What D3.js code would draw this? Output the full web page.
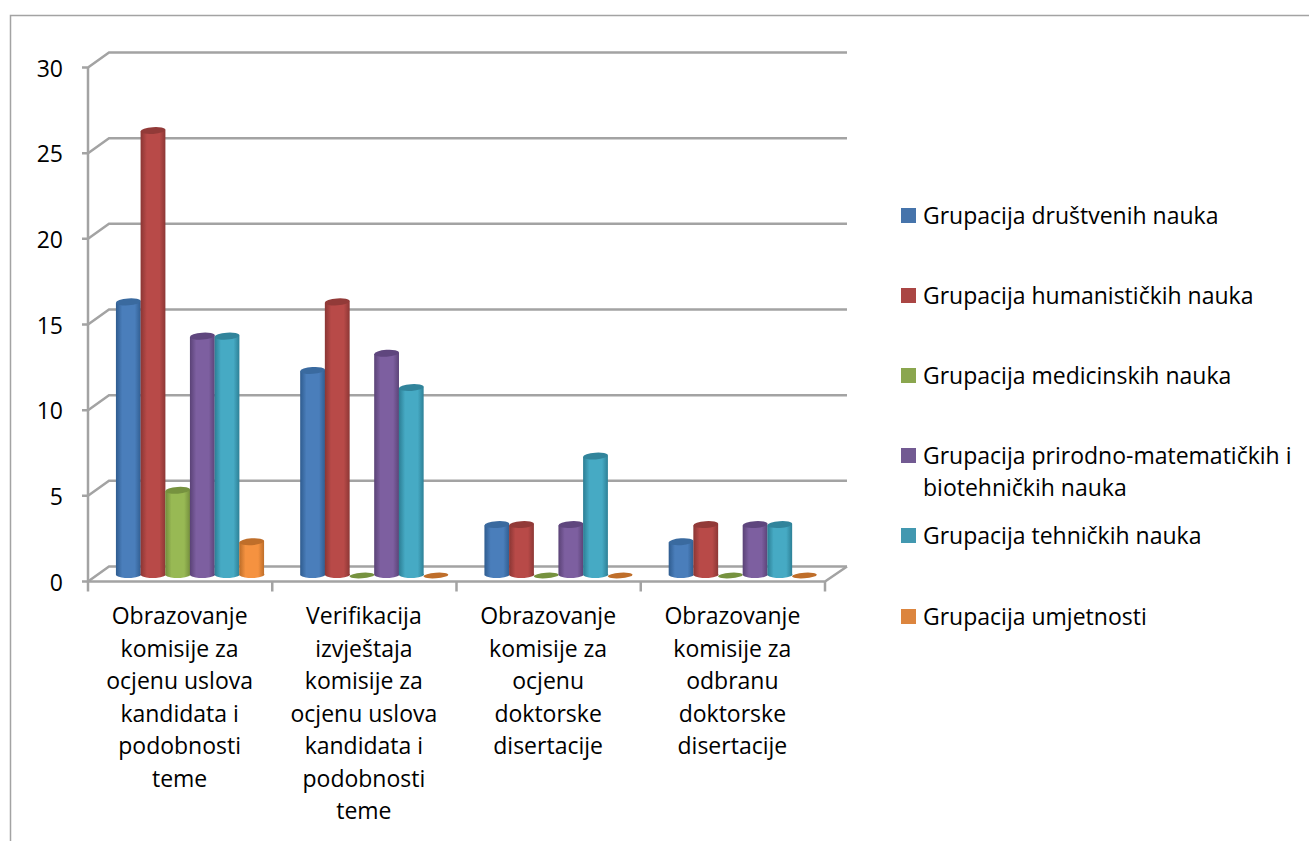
<!DOCTYPE html>
<html>
<head>
<meta charset="utf-8">
<script src="https://cdn.jsdelivr.net/npm/d3@7"></script>
<style>
html,body{margin:0;padding:0;background:#fff;}
svg{display:block;}
text{font-family:"Open Sans",sans-serif;fill:#000;}
</style>
</head>
<body>
<svg id="chart" width="1309" height="841"></svg>
<script>
var categories = [
	["Obrazovanje","komisije za","ocjenu uslova","kandidata i","podobnosti","teme"],
	["Verifikacija","izvještaja","komisije za","ocjenu uslova","kandidata i","podobnosti","teme"],
	["Obrazovanje","komisije za","ocjenu","doktorske","disertacije"],
	["Obrazovanje","komisije za","odbranu","doktorske","disertacije"]
];
var seriesNames = [
	["Grupacija društvenih nauka"],
	["Grupacija humanističkih nauka"],
	["Grupacija medicinskih nauka"],
	["Grupacija prirodno-matematičkih i","biotehničkih nauka"],
	["Grupacija tehničkih nauka"],
	["Grupacija umjetnosti"]
];
var drustvene = [16,12,3,2];
var humanisticke = [26,16,3,3];
var medicinske = [5,0,0,0];
var prirodne = [14,13,3,3];
var tehnicke = [14,11,7,3];
var umjetnost = [2,0,0,0];
var yTicks = [0,5,10,15,20,25,30];

var allSeries = [drustvene,humanisticke,medicinske,prirodne,tehnicke,umjetnost];
var colors = [
	{main:"#4a7ebb",dark:"#2f5c8f",top:"#3a6a9f",swatch:"#4674ab"},
	{main:"#b84a48",dark:"#8a3634",top:"#923a38",swatch:"#aa4644"},
	{main:"#98b954",dark:"#728c3c",top:"#76923f",swatch:"#8aa64e"},
	{main:"#7d5fa0",dark:"#5a4276",top:"#5f467e",swatch:"#725a92"},
	{main:"#46aac4",dark:"#2c7e94",top:"#31849b",swatch:"#4298b0"},
	{main:"#f59240",dark:"#bb6c28",top:"#bf6e2a",swatch:"#dc853e"}
];
var grey = "#a3a3a3";

var svg = d3.select("#chart");
var defs = svg.append("defs");
colors.forEach(function(c,i){
	var g = defs.append("linearGradient").attr("id","cyl"+i);
	g.append("stop").attr("offset","0%").attr("stop-color",c.dark);
	g.append("stop").attr("offset","25%").attr("stop-color",c.main);
	g.append("stop").attr("offset","75%").attr("stop-color",c.main);
	g.append("stop").attr("offset","100%").attr("stop-color",c.dark);
});

// frame of the pasted picture
svg.append("path").attr("d","M10.5,841V15.5H1309").attr("fill","none").attr("stroke",grey).attr("stroke-width",1.5);

var y = d3.scaleLinear().domain([0,30]).range([581.5,67.5]);
var x0 = d3.scaleBand().domain(d3.range(categories.length)).range([88,825]);
var x1 = d3.scaleBand().domain(d3.range(allSeries.length)).range([28,176]);

var depthX = 21, depthY = -15;

// walls and grid
var grid = svg.append("g").attr("fill","none").attr("stroke",grey).attr("stroke-width",2.5);
yTicks.forEach(function(t){
	grid.append("path").attr("d","M"+(88-6)+","+y(t)+"H88L"+(88+depthX)+","+(y(t)+depthY)+"H847");
});
grid.append("path").attr("d","M88,"+y(30)+"V"+y(0)+"H825L847,"+(y(0)+depthY));
categories.forEach(function(c,i){
	grid.append("path").attr("d","M"+x0(i)+","+y(0)+"v10");
});
grid.append("path").attr("d","M825,"+y(0)+"v10");

// y axis labels
svg.append("g").selectAll("text").data(yTicks).join("text")
	.attr("x",63).attr("y",function(d){return y(d)+9;})
	.attr("text-anchor","end").attr("font-size",23)
	.text(function(d){return d;});

// cylinders
var rx = 12.4, ry = 3.4, tilt = -4;
allSeries.forEach(function(vals,s){
	var g = svg.append("g");
	vals.forEach(function(v,c){
		var cx = x0(c)+x1(s)+x1.bandwidth()/2;
		var base = y(0)-7;
		var top = y(v)-5.5;
		if(v>0){
			g.append("path")
				.attr("d","M"+(cx-rx)+","+(top+0.8)+"V"+(base+0.8)+"A"+rx+","+ry+" 0 0 0 "+(cx+rx)+","+(base-0.8)+"V"+(top-0.8)+"Z")
				.attr("fill","url(#cyl"+s+")");
			g.append("ellipse").attr("cx",cx).attr("cy",top).attr("rx",rx).attr("ry",ry)
				.attr("transform","rotate("+tilt+" "+cx+" "+top+")")
				.attr("fill",colors[s].top);
		} else {
			g.append("ellipse").attr("cx",cx).attr("cy",base+1).attr("rx",rx).attr("ry",2.8)
				.attr("transform","rotate("+tilt+" "+cx+" "+(base+1)+")")
				.attr("fill",colors[s].top);
		}
	});
});

// category labels
var catG = svg.append("g").attr("font-size",23).attr("text-anchor","middle");
categories.forEach(function(lines,i){
	var cx = x0(i)+x0.bandwidth()/2-0.5;
	lines.forEach(function(l,j){
		catG.append("text").attr("x",cx).attr("y",624+j*32.5).text(l);
	});
});

// legend
var legendY = [216,296,376,456,536,617];
var leg = svg.append("g").attr("font-size",23);
seriesNames.forEach(function(lines,i){
	leg.append("rect").attr("x",901).attr("y",legendY[i]-8).attr("width",15).attr("height",15).attr("fill",colors[i].swatch);
	lines.forEach(function(l,j){
		leg.append("text").attr("x",923).attr("y",legendY[i]+8+j*32).text(l);
	});
});
</script>
</body>
</html>
